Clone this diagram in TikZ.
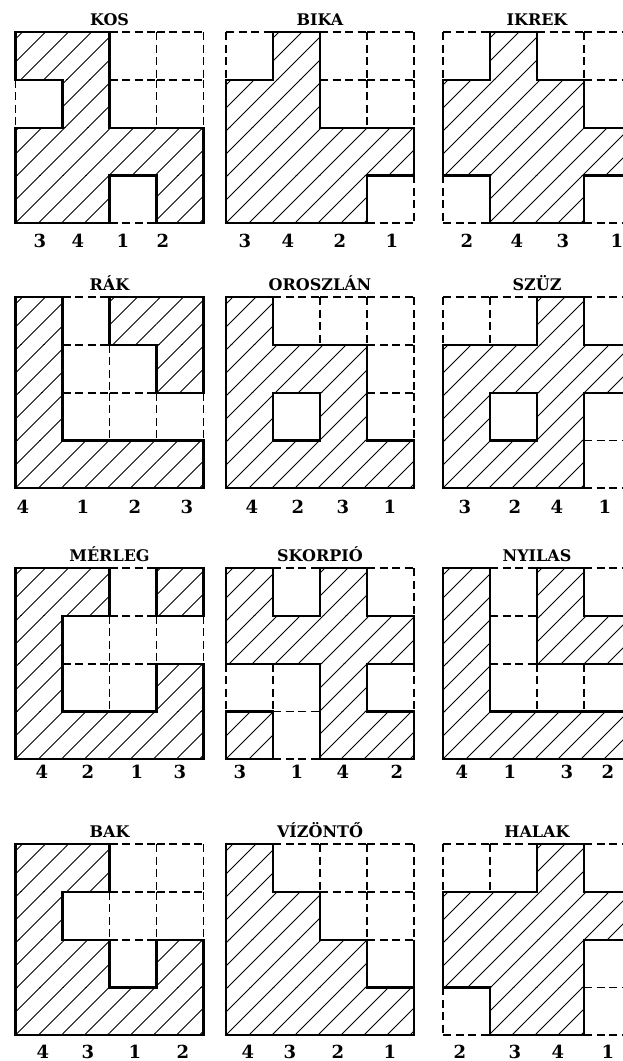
\documentclass[tikz,border=0pt]{standalone}
\usepackage{fontspec}
\setmainfont{DejaVu Serif}
\makeatletter
\newif\ifhatA
\newif\ifhatB
\def\cw{47}
\def\ch{47.8}
\newcommand\chk[2]{\edef\@tmpa{\noexpand\in@{,#1-#2,}{\hset}}\@tmpa}
\newcommand\getkind[4]{%
  \chk{#1}{#2}\ifin@\hatAtrue\else\hatAfalse\fi
  \chk{#3}{#4}\ifin@\hatBtrue\else\hatBfalse\fi
  \ifhatA\ifhatB\def\kind{0}\else\def\kind{1}\fi\else\ifhatB\def\kind{1}\else\def\kind{2}\fi\fi}
\newcommand\hatchcells{%
  \foreach \r in {0,...,3}{\foreach \c in {0,...,3}{%
    \chk{\r}{\c}\ifin@
      \begin{scope}
        \clip ({\c*\cw},{\r*\ch}) rectangle ({(\c+1)*\cw},{(\r+1)*\ch});
        \foreach \k in {0,...,17} \draw[hatchline] ({\k*23+7},0) -- (0,{\k*23+7});
      \end{scope}
    \fi}}}
\newcommand\edgesof[2]{%
  \foreach \r in {0,...,4}{\foreach \c in {0,...,3}{%
    \pgfmathtruncatemacro\ra{\r-1}%
    \getkind{\ra}{\c}{\r}{\c}%
    \ifnum\kind=#1\relax
      \draw[#2] ({\c*\cw},{\r*\ch}) -- ({(\c+1)*\cw},{\r*\ch});
    \fi}}%
  \foreach \c in {0,...,4}{\foreach \r in {0,...,3}{%
    \pgfmathtruncatemacro\ca{\c-1}%
    \getkind{\r}{\ca}{\r}{\c}%
    \ifnum\kind=#1\relax
      \draw[#2] ({\c*\cw},{\r*\ch}) -- ({\c*\cw},{(\r+1)*\ch});
    \fi}}}
% #1 id, #2 x, #3 y, #4 hatched cells, #5 title
\newcommand\panel[5]{%
  \def\hset{,#4,}%
  \begin{scope}[shift={(#2,#3)}]
    \hatchcells
    \edgesof{2}{dashedge}
    \edgesof{1}{solidedge}
  \end{scope}
  \node[titletext] (t-#1) at ({#2+94},{#3-7}) {#5};}
% #1 id, #2 baseline y, #3 list x/label
\newcommand\numbers[3]{%
  \foreach \xx/\lab [count=\i] in {#3}
    \node[numtext] (n-#1-\i) at (\xx,#2) {\lab};}
\makeatother
\tikzset{
  hatchline/.style={line width=1pt, black},
  solidedge/.style={line width=2.2pt, black, line cap=rect},
  thinedge/.style={line width=1.5pt, black},
  dashedge/.style={line width=1.8pt, black, dash pattern=on 8pt off 4.5pt},
  titletext/.style={anchor=base, inner sep=0pt, font=\fontsize{16}{19}\selectfont\bfseries},
  numtext/.style={anchor=base, inner sep=0pt, font=\fontsize{18}{21}\selectfont\bfseries}
}
\begin{document}
\begin{tikzpicture}[x=1pt,y=-1pt]
\useasboundingbox (0,0) rectangle (623,1061);
\clip (0,0) rectangle (623,1061);
\fill[white] (0,0) rectangle (623,1061);
% row 1
\panel{kos}{15.5}{32}{0-0,0-1,1-1,2-0,2-1,2-2,2-3,3-0,3-1,3-3}{KOS}
\panel{bika}{226}{32}{0-1,1-0,1-1,2-0,2-1,2-2,2-3,3-0,3-1,3-2}{BIKA}
\panel{ikrek}{443}{32}{0-1,1-0,1-1,1-2,2-0,2-1,2-2,2-3,3-1,3-2}{IKREK}
\numbers{kos}{247}{40/3,78/4,123/1,163/2}
\numbers{bika}{247}{245/3,288/4,340/2,392/1}
\numbers{ikrek}{247}{467/2,517/4,563/3,617/1}
% row 2
\panel{rak}{15.5}{297}{0-0,1-0,2-0,3-0,0-2,0-3,1-3,3-1,3-2,3-3}{RÁK}
\panel{oroszlan}{226}{297}{0-0,1-0,2-0,3-0,1-1,1-2,2-2,3-1,3-2,3-3}{OROSZLÁN}
\panel{szuz}{443}{297}{0-2,1-0,1-1,1-2,1-3,2-0,2-2,3-0,3-1,3-2}{SZÜZ}
\numbers{rak}{513}{23/4,83/1,135/2,187/3}
\numbers{oroszlan}{513}{252/4,298/2,343/3,390/1}
\numbers{szuz}{513}{465/3,515/2,557/4,605/1}
% row 3
\panel{merleg}{15.5}{568}{0-0,0-1,0-3,1-0,2-0,2-3,3-0,3-1,3-2,3-3}{MÉRLEG}
\panel{skorpio}{226}{568}{0-0,0-2,1-0,1-1,1-2,1-3,2-2,3-0,3-2,3-3}{SKORPIÓ}
\panel{nyilas}{443}{568}{0-0,1-0,2-0,3-0,0-2,1-2,1-3,3-1,3-2,3-3}{NYILAS}
\numbers{merleg}{778}{42/4,88/2,137/1,180/3}
\numbers{skorpio}{778}{240/3,297/1,343/4,397/2}
\numbers{nyilas}{778}{462/4,510/1,567/3,608/2}
% row 4
\panel{bak}{15.5}{844}{0-0,0-1,1-0,2-0,2-1,2-3,3-0,3-1,3-2,3-3}{BAK}
\panel{vizonto}{226}{844}{0-0,1-0,1-1,2-0,2-1,2-2,3-0,3-1,3-2,3-3}{VÍZÖNTŐ}
\draw[thinedge] (414,939.6) -- (414,987.4);
\panel{halak}{443}{844}{0-2,1-0,1-1,1-2,1-3,2-0,2-1,2-2,3-1,3-2}{HALAK}
\numbers{bak}{1058}{43/4,88/3,135/1,183/2}
\numbers{vizonto}{1058}{248/4,290/3,338/2,390/1}
\numbers{halak}{1058}{460/2,515/3,558/4,608/1}
\end{tikzpicture}
\end{document}
